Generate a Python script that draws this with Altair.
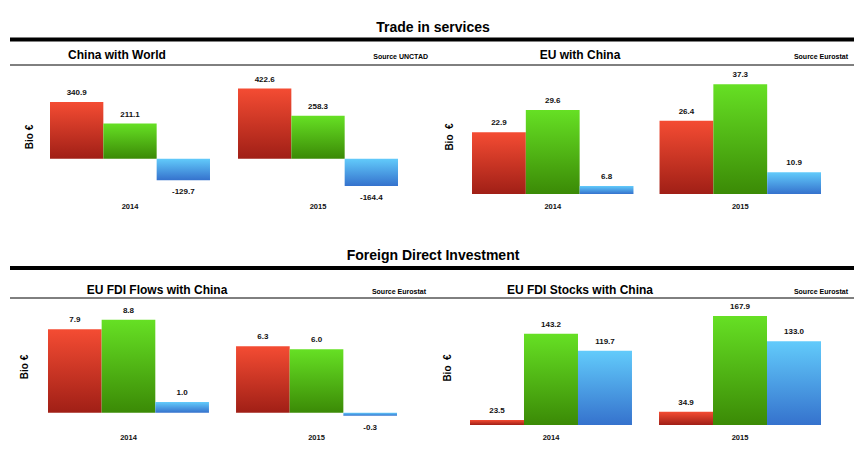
import altair as alt
import pandas as pd

# ---------------- data ----------------
years = ["2014", "2015"]
series = ["Imports", "Exports", "Balance"]

cw_red = [340.9, 422.6]
cw_green = [211.1, 258.3]
cw_blue = [-129.7, -164.4]

euc_red = [22.9, 26.4]
euc_green = [29.6, 37.3]
euc_blue = [6.8, 10.9]

flows_red = [7.9, 6.3]
flows_green = [8.8, 6.0]
flows_blue = [1.0, -0.3]

stocks_red = [23.5, 34.9]
stocks_green = [143.2, 167.9]
stocks_blue = [119.7, 133.0]

section_titles = ["Trade in services", "Foreign Direct Investment"]
panel_titles = ["China with World", "EU with China", "EU FDI Flows with China", "EU FDI Stocks with China"]
sources = ["Source UNCTAD", "Source Eurostat", "Source Eurostat", "Source Eurostat"]
y_title = "Bio €"

FONT = "Liberation Sans"


def grad(top, bottom):
    return alt.LinearGradient(
        gradient="linear",
        stops=[alt.GradientStop(color=top, offset=0), alt.GradientStop(color=bottom, offset=1)],
        x1=0, x2=0, y1=0, y2=1,
    )


GRADS = {
    "Imports": grad("#f44c33", "#a01f16"),
    "Exports": grad("#66e024", "#3b8a06"),
    "Balance": grad("#62cbfb", "#3572cd"),
}


def make_df(red, green, blue):
    rows = []
    for s, vals in zip(series, [red, green, blue]):
        for y, v in zip(years, vals):
            rows.append({"year": y, "series": s, "value": v, "label": f"{v:.1f}"})
    return pd.DataFrame(rows)


def panel(df, xrange, pad_inner, ydomain, yrange, base, year_y):
    xs = alt.X("year:N", axis=None,
               scale=alt.Scale(domain=years, range=xrange, paddingInner=pad_inner, paddingOuter=0))
    xo = alt.XOffset("series:N", scale=alt.Scale(domain=series, paddingInner=0, paddingOuter=0))
    ys = alt.Y("value:Q", axis=None,
               scale=alt.Scale(domain=ydomain, range=yrange, zero=False, nice=False))
    base_ch = alt.Chart(df)
    layers = []
    for s in series:
        layers.append(
            base_ch.transform_filter(alt.datum.series == s)
            .mark_bar(color=GRADS[s], clip=False)
            .encode(x=xs, xOffset=xo, y=ys, y2=alt.datum(base))
        )
    pos = base_ch.transform_filter(alt.datum.value >= 0).mark_text(
        font=FONT, fontSize=8, fontWeight="bold", color="#111", baseline="middle", dy=-9
    ).encode(x=xs, xOffset=xo, y=ys, text="label:N")
    neg = base_ch.transform_filter(alt.datum.value < 0).mark_text(
        font=FONT, fontSize=8, fontWeight="bold", color="#111", baseline="middle", dy=12
    ).encode(x=xs, xOffset=xo, y=ys, text="label:N")
    yrs = alt.Chart(pd.DataFrame({"year": years})).mark_text(
        font=FONT, fontSize=7.5, fontWeight="bold", color="#111", baseline="middle"
    ).encode(x=xs, y=alt.value(year_y), text="year:N")
    return alt.layer(*layers, pos, neg, yrs)


one = alt.Data(values=[{}])


def txt(text, x, y, size, align="center", angle=0, weight="bold"):
    kw = dict(text=text, font=FONT, fontSize=size, fontWeight=weight, color="#000",
              align=align, baseline="middle")
    if angle:
        kw["angle"] = angle
    return alt.Chart(one).mark_text(**kw).encode(x=alt.value(x), y=alt.value(y))


def rule(x1, x2, y, w):
    return alt.Chart(one).mark_rule(color="#000", strokeWidth=w).encode(
        x=alt.value(x1), x2=alt.value(x2), y=alt.value(y))


p1 = panel(make_df(cw_red, cw_green, cw_blue), [50, 398], 0.149, [-213, 504], [194, 75], 0, 207)
p2 = panel(make_df(euc_red, euc_green, euc_blue), [472, 821], 0.139, [4.4, 40.1], [194, 75], 4.4, 207)
p3 = panel(make_df(flows_red, flows_green, flows_blue), [48, 397], 0.144, [-1.17, 10.2], [425, 305], 0, 438)
p4 = panel(make_df(stocks_red, stocks_green, stocks_blue), [470, 821], 0.143, [16.6, 183.3], [425, 305], 16.6, 438)

decor = [
    txt(section_titles[0], 433, 28, 14),
    rule(10, 854, 39.5, 4),
    txt(panel_titles[0], 117, 54.5, 12),
    txt(panel_titles[1], 580, 54.5, 12),
    txt(sources[0], 428, 57, 7, align="right"),
    txt(sources[1], 848, 57, 7, align="right"),
    rule(10, 854, 65, 1),
    txt(y_title, 30, 137, 10, angle=270),
    txt("Bio \u00a0€", 450, 137, 10, angle=270),
    txt(section_titles[1], 433, 256, 14),
    rule(10, 854, 268, 4),
    txt(panel_titles[2], 157, 289.5, 12),
    txt(panel_titles[3], 580, 289.5, 12),
    txt(sources[2], 426, 292, 7, align="right"),
    txt(sources[3], 848, 292, 7, align="right"),
    rule(10, 854, 298, 1),
    txt(y_title, 25, 367, 10, angle=270),
    txt("Bio \u00a0€", 448, 368, 10, angle=270),
]

chart = alt.layer(p1, p2, p3, p4, *decor).resolve_scale(
    x="independent", y="independent", xOffset="independent"
).properties(
    width=866, height=463, padding=0, autosize=alt.AutoSizeParams(type="none"),
    background="white",
).configure_view(stroke=None)

chart.save("out.html", embed_options={"renderer": "svg", "actions": False})
